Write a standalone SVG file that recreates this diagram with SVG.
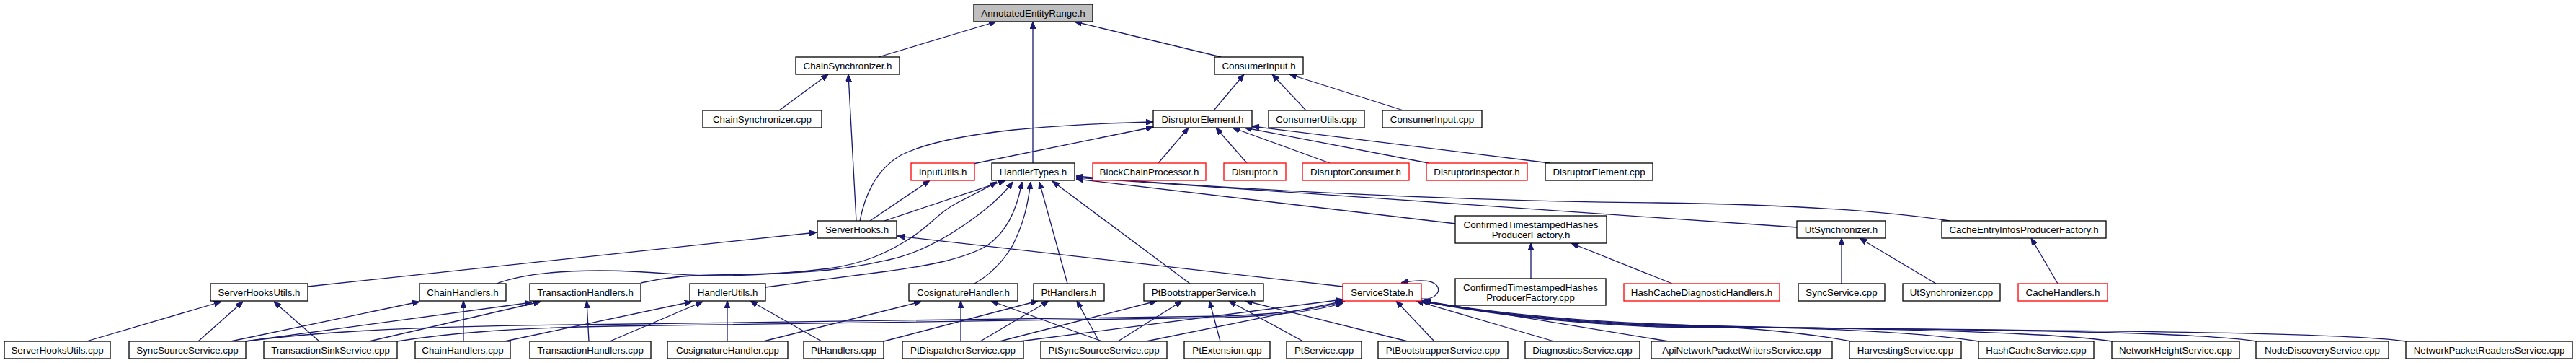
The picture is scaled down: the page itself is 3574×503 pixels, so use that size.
<svg xmlns="http://www.w3.org/2000/svg" width="3574" height="503" viewBox="0 0 3574 503">
<style>
.n rect{fill:#fff;stroke:#000;stroke-width:1.3}
.n.r rect{stroke:#ff0000}
.n.g rect{fill:#bfbfbf}
.n text{font-family:"Liberation Sans",Arial,sans-serif;font-size:13.33px;fill:#000;text-anchor:middle}
#edges path{fill:none;stroke:#191970;stroke-width:1.3;marker-end:url(#ah)}
</style>
<defs>
<marker id="ah" viewBox="0 0 10 8" refX="10" refY="4" markerWidth="10" markerHeight="8" markerUnits="userSpaceOnUse" orient="auto">
<path d="M0,0 L10,4 L0,8 z" fill="#191970" stroke="#191970" stroke-width="1"/>
</marker>
</defs>
<rect width="3574" height="503" fill="#fff"/>
<g id="edges">
<path d="M1219,79 L1382,30"/>
<path d="M1433,226 L1433,30"/>
<path d="M1694,79 L1491,30"/>
<path d="M1081,153 L1149,103"/>
<path d="M1188,306 L1177,103"/>
<path d="M1684,153 L1726,103"/>
<path d="M1812,153 L1765,103"/>
<path d="M1947,153 L1789,103"/>
<path d="M1193,306 C1200,270 1215,235 1250,215 C1320,180 1480,172 1600,169"/>
<path d="M1350,227 L1600,176"/>
<path d="M1607,226 L1649,177"/>
<path d="M1730,226 L1687,177"/>
<path d="M1845,226 L1710,177"/>
<path d="M1982,226 L1727,177"/>
<path d="M2150,226 L1737,175"/>
<path d="M1207,306 L1290,250"/>
<path d="M1227,306 L1395,250"/>
<path d="M689,393 C720,381 770,375 833,375 C900,375 940,382 990,382 C1060,382 1110,377 1150,372 C1200,365 1230,350 1255,335 C1290,315 1300,295 1330,280 C1350,270 1368,261 1383,252"/>
<path d="M889,392 C920,385 950,381 990,381 C1060,380 1110,378 1150,374 C1190,370 1215,364 1233,360 C1280,350 1320,325 1350,303 C1375,285 1392,270 1405,252"/>
<path d="M1062,398 C1120,390 1170,384 1230,376 C1290,368 1340,358 1370,340 C1395,322 1410,295 1418,252"/>
<path d="M1352,393 C1375,380 1393,360 1405,340 C1420,310 1426,285 1430,252"/>
<path d="M1481,393 L1442,252"/>
<path d="M1651,393 L1460,251"/>
<path d="M2020,310 L1493,248"/>
<path d="M2493,315 C2300,300 1800,268 1493,246"/>
<path d="M2705,306 C2600,290 2450,283 2300,281 C2000,278 1700,262 1493,244"/>
<path d="M427,397 L1133,322"/>
<path d="M1863,397 L1245,327"/>
<path d="M2124,386 L2124,337"/>
<path d="M2320,393 L2180,337"/>
<path d="M2555,393 L2555,330"/>
<path d="M2686,393 L2580,330"/>
<path d="M2855,393 L2818,330"/>
<path d="M120,473 L307,418"/>
<path d="M275,473 L337,418"/>
<path d="M443,473 L380,418"/>
<path d="M320,473 L582,418"/>
<path d="M643,473 L643,417"/>
<path d="M340,473 L738,419"/>
<path d="M512,473 L750,418"/>
<path d="M817,473 L814,417"/>
<path d="M700,473 L960,418"/>
<path d="M846,473 L975,418"/>
<path d="M1009,473 L1009,417"/>
<path d="M1140,473 L1041,417"/>
<path d="M1059,473 L1278,418"/>
<path d="M1333,473 L1333,417"/>
<path d="M1529,473 L1375,417"/>
<path d="M1226,473 L1440,417"/>
<path d="M1360,473 L1455,417"/>
<path d="M1525,473 L1494,417"/>
<path d="M1387,473 L1605,417"/>
<path d="M1551,473 L1640,417"/>
<path d="M1693,473 L1678,417"/>
<path d="M1808,473 L1705,417"/>
<path d="M1953,473 L1728,417"/>
<path d="M1990,473 L1937,417"/>
<path d="M2156,473 L1965,417"/>
<path d="M1415,473 L1863,415"/>
<path d="M1590,473 L1866,417"/>
<path d="M341,473 C450,458 600,452 800,450 C1200,446 1500,443 1700,438 C1780,435 1830,428 1863,418"/>
<path d="M551,473 C620,462 700,455 850,452 C1200,447 1500,445 1700,440 C1780,437 1830,430 1863,420"/>
<path d="M1972,414 C1990,416 1998,405 1995,398 C1990,388 1970,387 1944,392"/>
<path d="M2315,473 L1975,417"/>
<path d="M2568,473 C2500,460 2400,452 2300,449 C2150,443 2050,430 1972,417"/>
<path d="M2745,473 C2650,458 2500,454 2300,450 C2150,444 2050,431 1972,417"/>
<path d="M2930,473 C2850,460 2600,455 2300,451 C2150,445 2050,432 1972,417"/>
<path d="M3130,473 C3050,460 2800,457 2300,452 C2150,446 2050,432 1972,417"/>
<path d="M3338,473 C3250,460 2900,458 2300,453 C2150,447 2050,433 1972,417"/>
</g>
<g id="n_AnnotatedEntityRange" class="n g"><rect x="1351" y="6" width="165" height="24"/><text x="1433.5" y="22.7">AnnotatedEntityRange.h</text></g>
<g id="n_ChainSynchronizer_h" class="n"><rect x="1104" y="79" width="144" height="24"/><text x="1176" y="95.7">ChainSynchronizer.h</text></g>
<g id="n_ConsumerInput_h" class="n"><rect x="1685" y="79" width="123" height="24"/><text x="1746.5" y="95.7">ConsumerInput.h</text></g>
<g id="n_ChainSynchronizer_cpp" class="n"><rect x="975" y="153" width="165" height="24"/><text x="1057.5" y="169.7">ChainSynchronizer.cpp</text></g>
<g id="n_DisruptorElement_h" class="n"><rect x="1600" y="153" width="137" height="24"/><text x="1668.5" y="169.7">DisruptorElement.h</text></g>
<g id="n_ConsumerUtils_cpp" class="n"><rect x="1760" y="153" width="133" height="24"/><text x="1826.5" y="169.7">ConsumerUtils.cpp</text></g>
<g id="n_ConsumerInput_cpp" class="n"><rect x="1918" y="153" width="138" height="24"/><text x="1987" y="169.7">ConsumerInput.cpp</text></g>
<g id="n_InputUtils_h" class="n r"><rect x="1264" y="226" width="88" height="24"/><text x="1308" y="242.7">InputUtils.h</text></g>
<g id="n_HandlerTypes_h" class="n"><rect x="1376" y="226" width="115" height="24"/><text x="1433.5" y="242.7">HandlerTypes.h</text></g>
<g id="n_BlockChainProcessor_h" class="n r"><rect x="1516" y="226" width="157" height="24"/><text x="1594.5" y="242.7">BlockChainProcessor.h</text></g>
<g id="n_Disruptor_h" class="n r"><rect x="1698" y="226" width="86" height="24"/><text x="1741" y="242.7">Disruptor.h</text></g>
<g id="n_DisruptorConsumer_h" class="n r"><rect x="1807" y="226" width="148" height="24"/><text x="1881" y="242.7">DisruptorConsumer.h</text></g>
<g id="n_DisruptorInspector_h" class="n r"><rect x="1979" y="226" width="140" height="24"/><text x="2049" y="242.7">DisruptorInspector.h</text></g>
<g id="n_DisruptorElement_cpp" class="n"><rect x="2144" y="226" width="149" height="24"/><text x="2218.5" y="242.7">DisruptorElement.cpp</text></g>
<g id="n_ServerHooks_h" class="n"><rect x="1134" y="306" width="110" height="24"/><text x="1189" y="322.7">ServerHooks.h</text></g>
<g id="n_CTHPF_h" class="n"><rect x="2019" y="299" width="210" height="38"/><text x="2124" y="315.7">ConfirmedTimestampedHashes</text><text x="2124" y="329.7">ProducerFactory.h</text></g>
<g id="n_UtSynchronizer_h" class="n"><rect x="2493" y="306" width="123" height="24"/><text x="2554.5" y="322.7">UtSynchronizer.h</text></g>
<g id="n_CacheEntryInfosProducerFactory_h" class="n"><rect x="2694" y="306" width="228" height="24"/><text x="2808" y="322.7">CacheEntryInfosProducerFactory.h</text></g>
<g id="n_ServerHooksUtils_h" class="n"><rect x="292" y="393" width="135" height="24"/><text x="359.5" y="409.7">ServerHooksUtils.h</text></g>
<g id="n_ChainHandlers_h" class="n"><rect x="582" y="393" width="120" height="24"/><text x="642" y="409.7">ChainHandlers.h</text></g>
<g id="n_TransactionHandlers_h" class="n"><rect x="735" y="393" width="154" height="24"/><text x="812" y="409.7">TransactionHandlers.h</text></g>
<g id="n_HandlerUtils_h" class="n"><rect x="957" y="393" width="105" height="24"/><text x="1009.5" y="409.7">HandlerUtils.h</text></g>
<g id="n_CosignatureHandler_h" class="n"><rect x="1261" y="393" width="151" height="24"/><text x="1336.5" y="409.7">CosignatureHandler.h</text></g>
<g id="n_PtHandlers_h" class="n"><rect x="1434" y="393" width="98" height="24"/><text x="1483" y="409.7">PtHandlers.h</text></g>
<g id="n_PtBootstrapperService_h" class="n"><rect x="1587" y="393" width="166" height="24"/><text x="1670" y="409.7">PtBootstrapperService.h</text></g>
<g id="n_ServiceState_h" class="n r"><rect x="1863" y="393" width="109" height="24"/><text x="1917.5" y="409.7">ServiceState.h</text></g>
<g id="n_CTHPF_cpp" class="n"><rect x="2019" y="386" width="209" height="37"/><text x="2123.5" y="402.5">ConfirmedTimestampedHashes</text><text x="2123.5" y="416.5">ProducerFactory.cpp</text></g>
<g id="n_HashCacheDiagnosticHandlers_h" class="n r"><rect x="2253" y="393" width="216" height="24"/><text x="2361" y="409.7">HashCacheDiagnosticHandlers.h</text></g>
<g id="n_SyncService_cpp" class="n"><rect x="2495" y="393" width="120" height="24"/><text x="2555" y="409.7">SyncService.cpp</text></g>
<g id="n_UtSynchronizer_cpp" class="n"><rect x="2640" y="393" width="135" height="24"/><text x="2707.5" y="409.7">UtSynchronizer.cpp</text></g>
<g id="n_CacheHandlers_h" class="n r"><rect x="2800" y="393" width="124" height="24"/><text x="2862" y="409.7">CacheHandlers.h</text></g>
<g id="n_ServerHooksUtils_cpp" class="n"><rect x="6" y="473" width="147" height="24"/><text x="79.5" y="489.7">ServerHooksUtils.cpp</text></g>
<g id="n_SyncSourceService_cpp" class="n"><rect x="179" y="473" width="162" height="24"/><text x="260" y="489.7">SyncSourceService.cpp</text></g>
<g id="n_TransactionSinkService_cpp" class="n"><rect x="366" y="473" width="185" height="24"/><text x="458.5" y="489.7">TransactionSinkService.cpp</text></g>
<g id="n_ChainHandlers_cpp" class="n"><rect x="576" y="473" width="132" height="24"/><text x="642" y="489.7">ChainHandlers.cpp</text></g>
<g id="n_TransactionHandlers_cpp" class="n"><rect x="735" y="473" width="168" height="24"/><text x="819" y="489.7">TransactionHandlers.cpp</text></g>
<g id="n_CosignatureHandler_cpp" class="n"><rect x="926" y="473" width="167" height="24"/><text x="1009.5" y="489.7">CosignatureHandler.cpp</text></g>
<g id="n_PtHandlers_cpp" class="n"><rect x="1115" y="473" width="111" height="24"/><text x="1170.5" y="489.7">PtHandlers.cpp</text></g>
<g id="n_PtDispatcherService_cpp" class="n"><rect x="1252" y="473" width="168" height="24"/><text x="1336" y="489.7">PtDispatcherService.cpp</text></g>
<g id="n_PtSyncSourceService_cpp" class="n"><rect x="1444" y="473" width="175" height="24"/><text x="1531.5" y="489.7">PtSyncSourceService.cpp</text></g>
<g id="n_PtExtension_cpp" class="n"><rect x="1643" y="473" width="119" height="24"/><text x="1702.5" y="489.7">PtExtension.cpp</text></g>
<g id="n_PtService_cpp" class="n"><rect x="1785" y="473" width="104" height="24"/><text x="1837" y="489.7">PtService.cpp</text></g>
<g id="n_PtBootstrapperService_cpp" class="n"><rect x="1912" y="473" width="180" height="24"/><text x="2002" y="489.7">PtBootstrapperService.cpp</text></g>
<g id="n_DiagnosticsService_cpp" class="n"><rect x="2116" y="473" width="159" height="24"/><text x="2195.5" y="489.7">DiagnosticsService.cpp</text></g>
<g id="n_ApiNetworkPacketWritersService_cpp" class="n"><rect x="2291" y="473" width="251" height="24"/><text x="2416.5" y="489.7">ApiNetworkPacketWritersService.cpp</text></g>
<g id="n_HarvestingService_cpp" class="n"><rect x="2566" y="473" width="155" height="24"/><text x="2643.5" y="489.7">HarvestingService.cpp</text></g>
<g id="n_HashCacheService_cpp" class="n"><rect x="2745" y="473" width="160" height="24"/><text x="2825" y="489.7">HashCacheService.cpp</text></g>
<g id="n_NetworkHeightService_cpp" class="n"><rect x="2930" y="473" width="177" height="24"/><text x="3018.5" y="489.7">NetworkHeightService.cpp</text></g>
<g id="n_NodeDiscoveryService_cpp" class="n"><rect x="3130" y="473" width="184" height="24"/><text x="3222" y="489.7">NodeDiscoveryService.cpp</text></g>
<g id="n_NetworkPacketReadersService_cpp" class="n"><rect x="3338" y="473" width="231" height="24"/><text x="3453.5" y="489.7">NetworkPacketReadersService.cpp</text></g>
</svg>
